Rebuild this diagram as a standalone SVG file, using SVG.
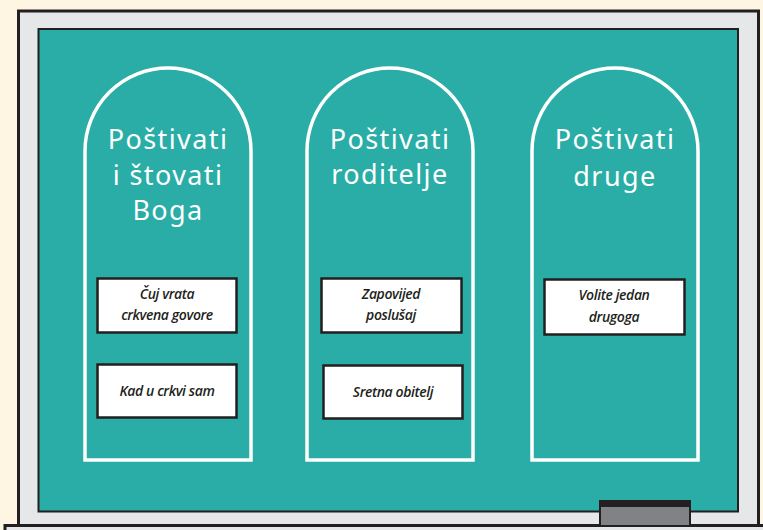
<svg xmlns="http://www.w3.org/2000/svg" width="763" height="530" viewBox="0 0 763 530">
<style>
.arch{fill:none;stroke:#ffffff;stroke-width:3.5}
.box{fill:#ffffff;stroke:#231f20;stroke-width:2.5}
.title{font-family:"Noto Sans","DejaVu Sans",sans-serif;font-size:27px;fill:#ffffff;text-anchor:middle;letter-spacing:1.4px}
.lbl{font-family:"Open Sans","Liberation Sans",sans-serif;font-style:italic;font-weight:600;font-size:14px;fill:#231f20;text-anchor:middle;letter-spacing:-0.4px}
</style>
<rect x="0" y="0" width="763" height="530" fill="#fef5e2"/>
<g id="board">
<rect x="18.5" y="11" width="740" height="518" fill="#e6e7e8" stroke="#231f20" stroke-width="3"/>
<rect x="38.5" y="29" width="699.5" height="482.5" fill="#29ada6" stroke="#231f20" stroke-width="2"/>
<rect x="5" y="525.5" width="770" height="10" fill="#e6e7e8" stroke="#231f20" stroke-width="3"/>
<rect x="600" y="506" width="90" height="20" fill="#808285" stroke="#231f20" stroke-width="2"/>
<rect x="599" y="500" width="92" height="6" fill="#231f20"/>
</g>
<g id="col1">
<path class="arch" d="M85,460 V151 A83,83 0 0 1 251,151 V460 Z"/>
<text class="title" x="168" y="149">Poštivati</text>
<text class="title" x="168" y="185">i štovati</text>
<text class="title" x="168" y="220">Boga</text>
<g id="n1"><rect class="box" x="97.5" y="278.5" width="139" height="54"/>
<text class="lbl" x="167" y="299">Čuj vrata</text>
<text class="lbl" x="167" y="320">crkvena govore</text></g>
<g id="n2"><rect class="box" x="97.5" y="364.5" width="139" height="53"/>
<text class="lbl" x="167" y="396">Kad u crkvi sam</text></g>
</g>
<g id="col2">
<path class="arch" d="M307,460 V151 A83,83 0 0 1 473,151 V460 Z"/>
<text class="title" x="390" y="149">Poštivati</text>
<text class="title" x="390" y="184">roditelje</text>
<g id="n3"><rect class="box" x="321.5" y="278.5" width="140" height="54"/>
<text class="lbl" x="391" y="299">Zapovijed</text>
<text class="lbl" x="391" y="320">poslušaj</text></g>
<g id="n4"><rect class="box" x="323.5" y="365.5" width="139" height="53"/>
<text class="lbl" x="393" y="397">Sretna obitelj</text></g>
</g>
<g id="col3">
<path class="arch" d="M532,460 V151 A83,83 0 0 1 698,151 V460 Z"/>
<text class="title" x="615" y="149">Poštivati</text>
<text class="title" x="615" y="186">druge</text>
<g id="n5"><rect class="box" x="544.5" y="279.5" width="140" height="55"/>
<text class="lbl" x="614" y="300">Volite jedan</text>
<text class="lbl" x="614" y="322">drugoga</text></g>
</g>
<g id="connectors"></g>
</svg>
